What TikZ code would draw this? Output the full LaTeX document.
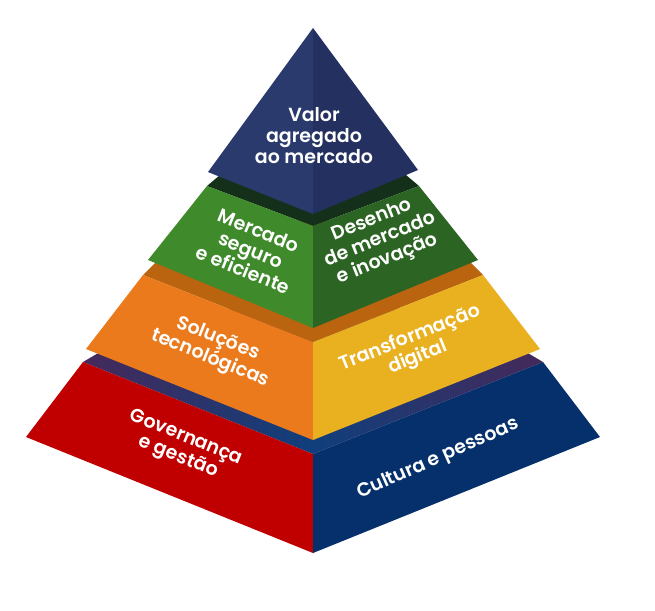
\documentclass[tikz,border=0pt]{standalone}
\usepackage{fontspec}
\setmainfont{Poppins}[BoldFont={Poppins SemiBold}]
\definecolor{navyL}{HTML}{2A3A6C}
\definecolor{navyR}{HTML}{233060}
\definecolor{greenTop}{HTML}{15301A}
\definecolor{greenL}{HTML}{3F8A2B}
\definecolor{greenR}{HTML}{2C6424}
\definecolor{orangeTop}{HTML}{BA640F}
\definecolor{orangeL}{HTML}{EA7A1C}
\definecolor{yellowR}{HTML}{E9B01F}
\definecolor{redL}{HTML}{C00000}
\definecolor{blueR}{HTML}{06306B}
\definecolor{baseTopA}{HTML}{46295A}
\definecolor{baseTopB}{HTML}{0F3F7C}
\tikzset{
  face/.style={line join=round},
  lbl/.style={text=white, font=\bfseries\fontsize{19}{21}\selectfont, align=center, inner sep=0pt},
  lface/.style={lbl, rotate=-22},
  rface/.style={lbl, rotate=22},
  rface2/.style={lbl, rotate=24}
}
\begin{document}
\begin{tikzpicture}[x=1pt,y=-1pt]
\useasboundingbox (0,0) rectangle (655,610);
\fill[white] (0,0) rectangle (655,610);
% ---- bottom tier ----
\shade[left color=baseTopA, right color=baseTopA, middle color=baseTopB]
  (83,362) -- (100,352) -- (313,280) -- (526,352) -- (543,362) -- (313,454) -- cycle;
\fill[redL, face] (83,362) -- (313,454) -- (313,553) -- (26,437) -- cycle;
\fill[blueR, face] (313,454) -- (543,362) -- (600,437) -- (313,553) -- cycle;
% ---- orange tier ----
\fill[orangeTop] (143,275) -- (156,262) -- (313,215) -- (470,262) -- (483,275) -- (313,342) -- cycle;
\fill[orangeL, face] (143,275) -- (313,342) -- (313,440) -- (86,349) -- cycle;
\fill[yellowR, face] (313,342) -- (483,275) -- (540,349) -- (313,440) -- cycle;
% ---- green tier ----
\fill[greenTop] (207,186) -- (220,175) -- (313,140) -- (406,175) -- (419,186) -- (313,226) -- cycle;
\fill[greenL, face] (207,186) -- (313,226) -- (313,328) -- (148,260) -- cycle;
\fill[greenR, face] (313,226) -- (419,186) -- (478,260) -- (313,328) -- cycle;
% ---- top pyramid ----
\fill[navyL, face] (313,28) -- (208,172) -- (313,214) -- cycle;
\fill[navyR, face] (313,28) -- (313,214) -- (418,170) -- cycle;
% ---- labels ----
\node[lbl] (top) at (314,136) {Valor\\agregado\\ao mercado};
\node[lface] (gl) at (251,250) {Mercado\\seguro\\e eficiente};
\node[rface] (gr) at (380,240) {Desenho\\de mercado\\e inovação};
\node[lface] (ol) at (214,349) {Soluções\\tecnológicas};
\node[rface] (yr) at (414,348) {Transformação\\digital};
\node[lface] (rl) at (182,448) {Governança\\e gestão};
\node[rface2] (br) at (438,459) {Cultura e pessoas};
\end{tikzpicture}
\end{document}
